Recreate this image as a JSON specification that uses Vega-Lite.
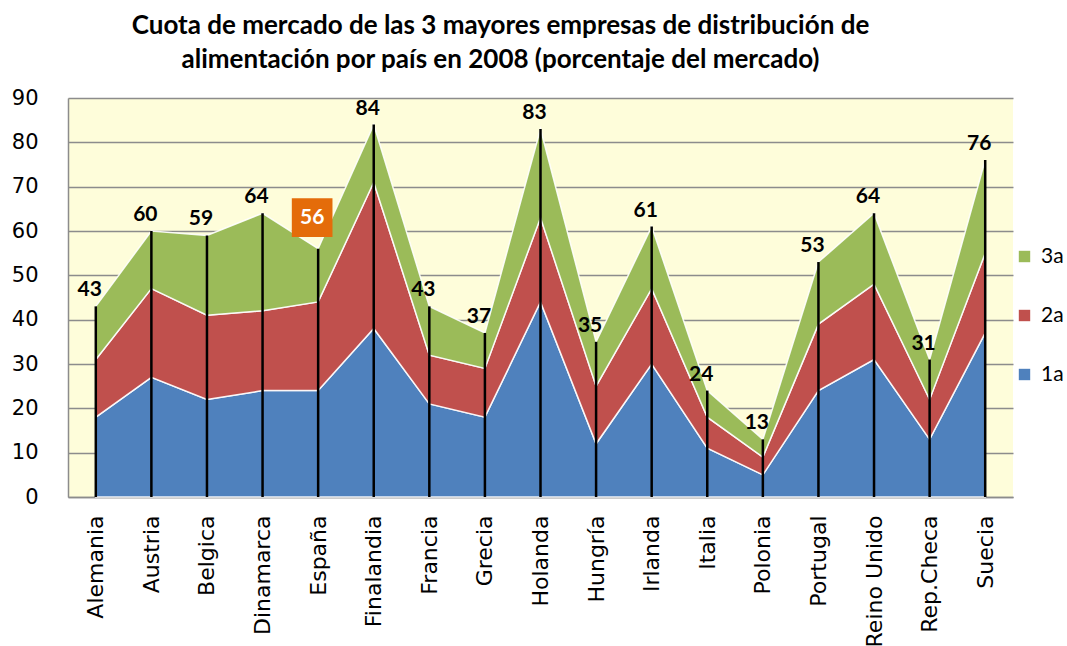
{
  "$schema": "https://vega.github.io/schema/vega-lite/v6.json",
  "width": 945,
  "height": 399,
  "autosize": {"type": "none"},
  "padding": {"left": 68, "top": 98, "right": 54, "bottom": 149},
  "background": "white",
  "title": {
    "text": ["Cuota de mercado de las 3 mayores empresas de distribución de", "alimentación por país  en 2008 (porcentaje del mercado)"],
    "font": "Lato",
    "fontSize": 26,
    "fontWeight": "bold",
    "color": "black",
    "lineHeight": 34,
    "anchor": "middle",
    "dx": -40,
    "offset": 14
  },
  "config": {
    "view": {"fill": "#FEFDDA", "stroke": null},
    "axis": {"gridColor": "#8c8c8c", "gridWidth": 1.5, "domainColor": "#8c8c8c", "domainWidth": 1.5}
  },
  "datasets": {
    "shares": [
      {"pais": "Alemania", "serie": "1a", "ord": 1, "valor": 18},
      {"pais": "Alemania", "serie": "2a", "ord": 2, "valor": 13},
      {"pais": "Alemania", "serie": "3a", "ord": 3, "valor": 12},
      {"pais": "Austria", "serie": "1a", "ord": 1, "valor": 27},
      {"pais": "Austria", "serie": "2a", "ord": 2, "valor": 20},
      {"pais": "Austria", "serie": "3a", "ord": 3, "valor": 13},
      {"pais": "Belgica", "serie": "1a", "ord": 1, "valor": 22},
      {"pais": "Belgica", "serie": "2a", "ord": 2, "valor": 19},
      {"pais": "Belgica", "serie": "3a", "ord": 3, "valor": 18},
      {"pais": "Dinamarca", "serie": "1a", "ord": 1, "valor": 24},
      {"pais": "Dinamarca", "serie": "2a", "ord": 2, "valor": 18},
      {"pais": "Dinamarca", "serie": "3a", "ord": 3, "valor": 22},
      {"pais": "España", "serie": "1a", "ord": 1, "valor": 24},
      {"pais": "España", "serie": "2a", "ord": 2, "valor": 20},
      {"pais": "España", "serie": "3a", "ord": 3, "valor": 12},
      {"pais": "Finalandia", "serie": "1a", "ord": 1, "valor": 38},
      {"pais": "Finalandia", "serie": "2a", "ord": 2, "valor": 33},
      {"pais": "Finalandia", "serie": "3a", "ord": 3, "valor": 13},
      {"pais": "Francia", "serie": "1a", "ord": 1, "valor": 21},
      {"pais": "Francia", "serie": "2a", "ord": 2, "valor": 11},
      {"pais": "Francia", "serie": "3a", "ord": 3, "valor": 11},
      {"pais": "Grecia", "serie": "1a", "ord": 1, "valor": 18},
      {"pais": "Grecia", "serie": "2a", "ord": 2, "valor": 11},
      {"pais": "Grecia", "serie": "3a", "ord": 3, "valor": 8},
      {"pais": "Holanda", "serie": "1a", "ord": 1, "valor": 44},
      {"pais": "Holanda", "serie": "2a", "ord": 2, "valor": 19},
      {"pais": "Holanda", "serie": "3a", "ord": 3, "valor": 20},
      {"pais": "Hungría", "serie": "1a", "ord": 1, "valor": 12},
      {"pais": "Hungría", "serie": "2a", "ord": 2, "valor": 13},
      {"pais": "Hungría", "serie": "3a", "ord": 3, "valor": 10},
      {"pais": "Irlanda", "serie": "1a", "ord": 1, "valor": 30},
      {"pais": "Irlanda", "serie": "2a", "ord": 2, "valor": 17},
      {"pais": "Irlanda", "serie": "3a", "ord": 3, "valor": 14},
      {"pais": "Italia", "serie": "1a", "ord": 1, "valor": 11},
      {"pais": "Italia", "serie": "2a", "ord": 2, "valor": 7},
      {"pais": "Italia", "serie": "3a", "ord": 3, "valor": 6},
      {"pais": "Polonia", "serie": "1a", "ord": 1, "valor": 5},
      {"pais": "Polonia", "serie": "2a", "ord": 2, "valor": 4},
      {"pais": "Polonia", "serie": "3a", "ord": 3, "valor": 4},
      {"pais": "Portugal", "serie": "1a", "ord": 1, "valor": 24},
      {"pais": "Portugal", "serie": "2a", "ord": 2, "valor": 15},
      {"pais": "Portugal", "serie": "3a", "ord": 3, "valor": 14},
      {"pais": "Reino Unido", "serie": "1a", "ord": 1, "valor": 31},
      {"pais": "Reino Unido", "serie": "2a", "ord": 2, "valor": 17},
      {"pais": "Reino Unido", "serie": "3a", "ord": 3, "valor": 16},
      {"pais": "Rep.Checa", "serie": "1a", "ord": 1, "valor": 13},
      {"pais": "Rep.Checa", "serie": "2a", "ord": 2, "valor": 9},
      {"pais": "Rep.Checa", "serie": "3a", "ord": 3, "valor": 9},
      {"pais": "Suecia", "serie": "1a", "ord": 1, "valor": 37},
      {"pais": "Suecia", "serie": "2a", "ord": 2, "valor": 18},
      {"pais": "Suecia", "serie": "3a", "ord": 3, "valor": 21}
    ],
    "totals": [
      {"pais": "Alemania", "total": 43, "base": 0, "destacado": false},
      {"pais": "Austria", "total": 60, "base": 0, "destacado": false},
      {"pais": "Belgica", "total": 59, "base": 0, "destacado": false},
      {"pais": "Dinamarca", "total": 64, "base": 0, "destacado": false},
      {"pais": "España", "total": 56, "base": 0, "destacado": true},
      {"pais": "Finalandia", "total": 84, "base": 0, "destacado": false},
      {"pais": "Francia", "total": 43, "base": 0, "destacado": false},
      {"pais": "Grecia", "total": 37, "base": 0, "destacado": false},
      {"pais": "Holanda", "total": 83, "base": 0, "destacado": false},
      {"pais": "Hungría", "total": 35, "base": 0, "destacado": false},
      {"pais": "Irlanda", "total": 61, "base": 0, "destacado": false},
      {"pais": "Italia", "total": 24, "base": 0, "destacado": false},
      {"pais": "Polonia", "total": 13, "base": 0, "destacado": false},
      {"pais": "Portugal", "total": 53, "base": 0, "destacado": false},
      {"pais": "Reino Unido", "total": 64, "base": 0, "destacado": false},
      {"pais": "Rep.Checa", "total": 31, "base": 0, "destacado": false},
      {"pais": "Suecia", "total": 76, "base": 0, "destacado": false}
    ]
  },
  "layer": [
    {
      "data": {"name": "shares"},
      "mark": {"type": "area", "stroke": "white", "strokeWidth": 1.5, "strokeOpacity": 0.9, "opacity": 1},
      "encoding": {
        "x": {
          "field": "pais", "type": "ordinal", "sort": null,
          "scale": {"type": "point", "padding": 0.5},
          "axis": {
            "title": null, "labelAngle": -90, "labelFont": "DejaVu Sans", "labelFontSize": 22,
            "labelColor": "black", "ticks": false, "labelPadding": 18, "grid": false
          }
        },
        "y": {
          "field": "valor", "type": "quantitative", "stack": "zero",
          "scale": {"domain": [0, 90], "nice": false},
          "axis": {
            "title": null, "values": [0, 10, 20, 30, 40, 50, 60, 70, 80, 90], "ticks": false,
            "labelFont": "DejaVu Sans", "labelFontSize": 21, "labelColor": "black", "labelPadding": 30, "grid": true
          }
        },
        "color": {
          "field": "serie", "type": "nominal",
          "scale": {"domain": ["3a", "2a", "1a"], "range": ["#9BBB59", "#C0504D", "#4F81BD"]},
          "legend": {
            "title": null, "orient": "none", "legendX": 946, "legendY": 148,
            "symbolType": "square", "symbolSize": 130, "symbolStrokeWidth": 0,
            "labelFont": "Lato", "labelFontSize": 21, "labelColor": "black",
            "rowPadding": 37, "labelOffset": 6
          }
        },
        "order": {"field": "ord", "type": "quantitative", "sort": "ascending"}
      }
    },
    {
      "data": {"name": "totals"},
      "mark": {"type": "rule", "color": "black", "strokeWidth": 2.5},
      "encoding": {
        "x": {"field": "pais", "type": "ordinal", "sort": null},
        "y": {"field": "total", "type": "quantitative"},
        "y2": {"field": "base"}
      }
    },
    {
      "data": {"name": "totals"},
      "transform": [{"filter": "!datum.destacado"}],
      "mark": {"type": "text", "font": "Lato", "fontSize": 21, "fontWeight": "bold", "color": "black", "dx": -6, "dy": -16, "baseline": "middle"},
      "encoding": {
        "x": {"field": "pais", "type": "ordinal", "sort": null},
        "y": {"field": "total", "type": "quantitative"},
        "text": {"field": "total", "type": "quantitative"}
      }
    },
    {
      "data": {"name": "totals"},
      "transform": [{"filter": "datum.destacado"}],
      "mark": {"type": "point", "shape": "M-1.05,-1H1.05V1H-1.05Z", "filled": true, "color": "#E46C0A", "opacity": 1, "size": 1500, "xOffset": -6, "yOffset": -31},
      "encoding": {
        "x": {"field": "pais", "type": "ordinal", "sort": null},
        "y": {"field": "total", "type": "quantitative"}
      }
    },
    {
      "data": {"name": "totals"},
      "transform": [{"filter": "datum.destacado"}],
      "mark": {"type": "text", "font": "Lato", "fontSize": 21, "fontWeight": "bold", "color": "white", "dx": -6, "dy": -31, "baseline": "middle"},
      "encoding": {
        "x": {"field": "pais", "type": "ordinal", "sort": null},
        "y": {"field": "total", "type": "quantitative"},
        "text": {"field": "total", "type": "quantitative"}
      }
    }
  ]
}
